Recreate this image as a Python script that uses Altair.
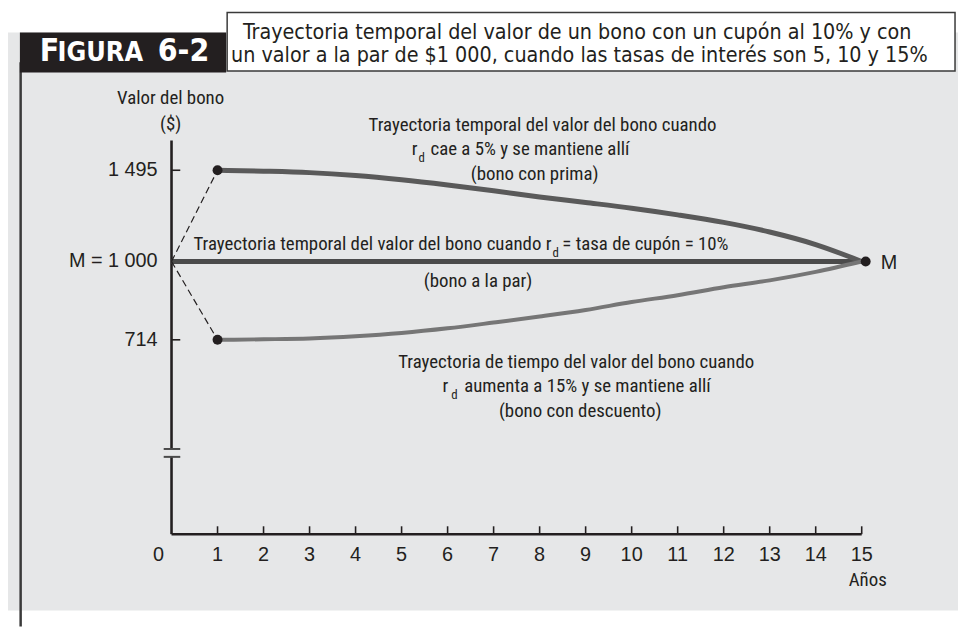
import altair as alt
import pandas as pd

OFF = 8  # page margin
W, H = 958, 621

# ---------------- data ----------------
years = list(range(1, 16))
prima_values = [1495, 1490, 1482, 1466, 1443, 1415, 1384, 1350, 1320, 1289, 1253, 1212, 1160, 1092, 1000]
descuento_values = [714, 716, 719, 727, 739, 756, 777, 799, 823, 852, 877, 906, 931, 962, 1000]
par_years = [0, 15]
par_values = [1000, 1000]
jump_series = ["prima", "prima", "descuento", "descuento"]
jump_years = [0, 1, 0, 1]
jump_values = [1000, 1495, 1000, 714]
dot_years = [1, 1]
dot_values = [1495, 714]
end_year = [15]
end_value = [1000]
x_tick_values = list(range(1, 16))
x_tick_labels = [str(i) for i in range(1, 16)]
y_tick_values = [714, 1000, 1495]
y_tick_labels = ["714", "M  =  1 000", "1 495"]

title_lines = ["Trayectoria temporal del valor de un bono con un cupón al 10%  y con",
               "un valor a la par de $1 000, cuando las tasas de interés son 5, 10 y 15%"]

COND = "Roboto Condensed, Noto Sans Condensed, Roboto, sans-serif"
TITLEF = "DejaVu Sans Condensed, sans-serif"
SANS = "Liberation Sans, Arial, sans-serif"
INK = "#231f20"

XS = alt.Scale(domain=[0, 15], range=[172.9 - OFF, 868.9 - OFF], nice=False, zero=False)
YS = alt.Scale(domain=[0, 714, 1000, 1495], range=[536 - OFF, 340 - OFF, 261 - OFF, 169 - OFF],
               nice=False, zero=False)

one = pd.DataFrame({"k": [0]})


def px(v):
    return alt.value(v - OFF)


def rect(x1, y1, x2, y2, fill, stroke=None, sw=0):
    kw = dict(fill=fill)
    if stroke:
        kw.update(stroke=stroke, strokeWidth=sw)
    return alt.Chart(one).mark_rect(**kw).encode(x=px(x1), x2=px(x2), y=px(y1), y2=px(y2))


def txt(text, x, y, size, align="center", font=COND, weight="normal", color=INK, baseline="middle"):
    return alt.Chart(one).mark_text(text=text, align=align, baseline=baseline, fontSize=size,
                                    font=font, fontWeight=weight, color=color).encode(x=px(x), y=px(y))


layers = []
# background panel and frame
layers.append(rect(5, 30, 966, 613, "#e6e7e8"))
layers.append(rect(19.5, 60, 22, 629, "#3a3a3a"))
layers.append(rect(20, 30, 228, 70.5, INK))
layers.append(rect(229, 10, 963, 69, "white", "#3a3a3a", 1.5))
# header
layers.append(txt("F", 40, 59.3, 32, "left", TITLEF, "bold", "white", "alphabetic"))
layers.append(txt("IGURA", 58, 59.3, 27, "left", TITLEF, "bold", "white", "alphabetic"))
layers.append(txt("6-2", 159, 59.3, 32, "left", TITLEF, "bold", "white", "alphabetic"))
layers.append(txt(title_lines[0], 245, 36.5, 21.5, "left", TITLEF, baseline="alphabetic"))
layers.append(txt(title_lines[1], 233, 60, 21.5, "left", TITLEF, baseline="alphabetic"))

# axes (drawn through data scales)
axis_v = pd.DataFrame({"x": [0, 0], "y1": [0, 313], "y2": [284, 1656]})
layers.append(alt.Chart(axis_v).mark_rule(color=INK, strokeWidth=2.6).encode(
    x=alt.X("x:Q", scale=XS, axis=None), y=alt.Y("y1:Q", scale=YS, axis=None), y2="y2:Q"))
breaks = pd.DataFrame({"x1": [-0.17, -0.17], "x2": [0.19, 0.19], "y": [284, 313]})
layers.append(alt.Chart(breaks).mark_rule(color="#4a4a4a", strokeWidth=2).encode(
    x=alt.X("x1:Q", scale=XS, axis=None), x2="x2:Q", y=alt.Y("y:Q", scale=YS, axis=None)))
axis_h = pd.DataFrame({"x1": [0], "x2": [15], "y": [0]})
layers.append(alt.Chart(axis_h).mark_rule(color=INK, strokeWidth=2.6).encode(
    x=alt.X("x1:Q", scale=XS, axis=None), x2="x2:Q", y=alt.Y("y:Q", scale=YS, axis=None)))
xt = pd.DataFrame({"x": x_tick_values, "y1": 0, "y2": 29})
layers.append(alt.Chart(xt).mark_rule(color=INK, strokeWidth=1.6).encode(
    x=alt.X("x:Q", scale=XS, axis=None), y=alt.Y("y1:Q", scale=YS, axis=None), y2="y2:Q"))
yt = pd.DataFrame({"x1": 0, "x2": 0.19, "y": y_tick_values})
layers.append(alt.Chart(yt).mark_rule(color=INK, strokeWidth=1.6).encode(
    x=alt.X("x1:Q", scale=XS, axis=None), x2="x2:Q", y=alt.Y("y:Q", scale=YS, axis=None)))

xl = pd.DataFrame({"x": x_tick_values, "t": x_tick_labels, "y": 0})
layers.append(alt.Chart(xl).mark_text(fontSize=20, font=SANS, color=INK, baseline="middle", dy=21).encode(
    x=alt.X("x:Q", scale=XS, axis=None), y=alt.Y("y:Q", scale=YS, axis=None), text="t"))
x0 = pd.DataFrame({"x": [0], "t": ["0"], "y": [0]})
layers.append(alt.Chart(x0).mark_text(fontSize=20, font=SANS, color=INK, baseline="middle", dy=21,
                                      dx=-13).encode(
    x=alt.X("x:Q", scale=XS, axis=None), y=alt.Y("y:Q", scale=YS, axis=None), text="t"))
yl = pd.DataFrame({"y": y_tick_values, "t": y_tick_labels, "x": 0})
layers.append(alt.Chart(yl).mark_text(fontSize=20, font=SANS, color=INK, baseline="middle", align="right",
                                      dx=-14).encode(
    x=alt.X("x:Q", scale=XS, axis=None), y=alt.Y("y:Q", scale=YS, axis=None), text="t"))

# series
par = pd.DataFrame({"x": par_years, "y": par_values})
layers.append(alt.Chart(par).mark_line(color="#4b4b4b", strokeWidth=5).encode(
    x=alt.X("x:Q", scale=XS, axis=None), y=alt.Y("y:Q", scale=YS, axis=None)))
prima = pd.DataFrame({"x": years, "y": prima_values})
layers.append(alt.Chart(prima).mark_line(color="#5a5a5a", strokeWidth=5, interpolate="monotone").encode(
    x=alt.X("x:Q", scale=XS, axis=None), y=alt.Y("y:Q", scale=YS, axis=None)))
desc = pd.DataFrame({"x": years, "y": descuento_values})
layers.append(alt.Chart(desc).mark_line(color="#767676", strokeWidth=4, interpolate="monotone").encode(
    x=alt.X("x:Q", scale=XS, axis=None), y=alt.Y("y:Q", scale=YS, axis=None)))
jumps = pd.DataFrame({"s": jump_series, "x": jump_years, "y": jump_values})
layers.append(alt.Chart(jumps).mark_line(color=INK, strokeWidth=1.2, strokeDash=[7, 4]).encode(
    x=alt.X("x:Q", scale=XS, axis=None), y=alt.Y("y:Q", scale=YS, axis=None), detail="s:N"))
dots = pd.DataFrame({"x": dot_years, "y": dot_values})
layers.append(alt.Chart(dots).mark_circle(color=INK, size=100, opacity=1).encode(
    x=alt.X("x:Q", scale=XS, axis=None), y=alt.Y("y:Q", scale=YS, axis=None)))
endd = pd.DataFrame({"x": end_year, "y": end_value})
layers.append(alt.Chart(endd).mark_circle(color=INK, size=100, opacity=1, xOffset=4).encode(
    x=alt.X("x:Q", scale=XS, axis=None), y=alt.Y("y:Q", scale=YS, axis=None)))

# labels
AS = 19
layers.append(txt("Valor del bono", 172, 96, AS))
layers.append(txt("($)", 172, 122, AS))
layers.append(txt("Años", 875, 582, AS))
layers.append(txt("M", 888, 262.5, 20, "left", SANS))

layers.append(txt("Trayectoria temporal del valor del bono cuando", 547, 123, AS))
layers.append(txt("r", 421, 148, AS, "right"))
layers.append(txt("d", 422, 157, 13, "left"))
layers.append(txt("cae a 5% y se mantiene allí", 434, 148, AS, "left"))
layers.append(txt("(bono con prima)", 539, 173, AS))

layers.append(txt("Trayectoria temporal del valor del bono cuando r", 556, 243, AS, "right"))
layers.append(txt("d", 557, 252, 13, "left"))
layers.append(txt("= tasa de cupón = 10%", 567, 243, AS, "left"))
layers.append(txt("(bono a la par)", 482, 281, AS))

layers.append(txt("Trayectoria de tiempo del valor del bono cuando", 581, 362, AS))
layers.append(txt("r", 452, 387, AS, "right"))
layers.append(txt("d", 455, 396, 13, "left"))
layers.append(txt("aumenta a 15% y se mantiene allí", 468, 387, AS, "left"))
layers.append(txt("(bono con descuento)", 585, 412, AS))

chart = alt.layer(*layers).properties(
    width=W, height=H, background="white", padding=0,
    autosize=alt.AutoSizeParams(type="none")
).configure_view(stroke=None)

chart.save("out.html", embed_options={"renderer": "svg", "actions": False})
